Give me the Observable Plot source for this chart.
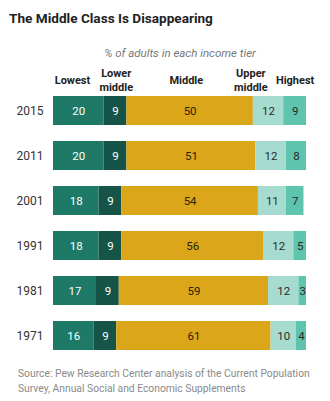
<!DOCTYPE html>
<html>
<head>
<meta charset="utf-8">
<script src="https://cdn.jsdelivr.net/npm/d3@7"></script>
<script src="https://cdn.jsdelivr.net/npm/@observablehq/plot@0.6"></script>
<style>
  html, body { margin: 0; padding: 0; background: #fff; width: 330px; height: 401px; overflow: hidden; }
  #title { font-family: "Roboto", "Liberation Sans", sans-serif; font-weight: 700; font-size: 13.6px; color: #222; height: 38px; line-height: 36px; padding-left: 9px; box-sizing: border-box; }
  #caption { font-family: "Roboto", "Liberation Sans", sans-serif; font-size: 10.3px; color: #8a8a8a; line-height: 14.5px; padding-left: 18px; margin-top: 4px; }
  svg { display: block; }
</style>
</head>
<body>
<div id="title">The Middle Class Is Disappearing</div>
<div id="chart"></div>
<div id="caption">Source: Pew Research Center analysis of the Current Population<br>Survey, Annual Social and Economic Supplements</div>
<script>
const years = ["2015", "2011", "2001", "1991", "1981", "1971"];
const tiers = ["Lowest", "Lower middle", "Middle", "Upper middle", "Highest"];
const lowest = [20, 20, 18, 18, 17, 16];
const lowerMiddle = [9, 9, 9, 9, 9, 9];
const middle = [50, 51, 54, 56, 59, 61];
const upperMiddle = [12, 12, 11, 12, 12, 10];
const highest = [9, 8, 7, 5, 3, 4];
const tierColors = ["#1e7a66", "#155446", "#dba61a", "#a6dccf", "#5fc4ad"];
const labelColors = ["#ffffff", "#ffffff", "#2a2200", "#2a2a2a", "#2a2a2a"];
const headerLabels = ["Lowest", "Lower\nmiddle", "Middle", "Upper\nmiddle", "Highest"];
const headerPos = [7.5, 24.8, 52.5, 78, 95.5];
const subtitle = "% of adults in each income tier";

const series = [lowest, lowerMiddle, middle, upperMiddle, highest];
const data = [];
years.forEach((y, i) => {
  tiers.forEach((t, j) => {
    data.push({year: y, tier: t, value: series[j][i], labelColor: labelColors[j]});
  });
});
const headers = tiers.map((t, j) => ({label: headerLabels[j], x: headerPos[j]}));

const font = "Roboto, 'Liberation Sans', sans-serif";
const chart = Plot.plot({
  width: 330,
  height: 325,
  marginLeft: 53,
  marginRight: 24,
  marginTop: 57,
  marginBottom: 12,
  style: {fontFamily: font, background: "#fff"},
  x: {domain: [0, 100], axis: null},
  y: {domain: years, paddingInner: 0.347, paddingOuter: 0, label: null},
  color: {domain: tiers, range: tierColors},
  marks: [
    Plot.barX(data, Plot.stackX({y: "year", x: "value", fill: "tier", order: tiers})),
    Plot.text(data, Plot.stackX({y: "year", x: "value", z: "tier", order: tiers, text: d => String(d.value), fill: "labelColor", fontSize: 11.5, fontFamily: font})),
    Plot.axisY({tickSize: 0, tickPadding: 10, fontSize: 12, color: "#333", label: null}),
    Plot.text([subtitle], {x: 50, frameAnchor: "top", lineAnchor: "middle", dy: -42, text: d => d, fontStyle: "italic", fontSize: 11.5, fill: "#777"}),
    Plot.text(headers, {x: "x", text: "label", frameAnchor: "top", lineAnchor: "middle", dy: -16, fontWeight: "bold", fontSize: 11, lineHeight: 1.25, fill: "#222"})
  ]
});
document.getElementById("chart").appendChild(chart);
</script>
</body>
</html>
